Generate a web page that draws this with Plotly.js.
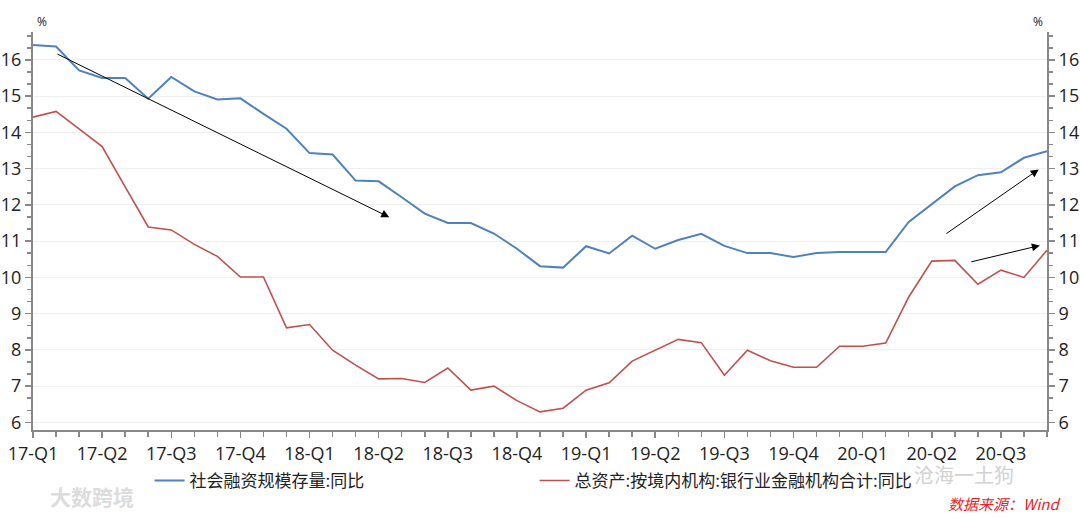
<!DOCTYPE html>
<html>
<head>
<meta charset="utf-8">
<script src="https://cdn.plot.ly/plotly-3.0.1.min.js"></script>
<style>html,body{margin:0;padding:0;background:#fff}#chart{width:1080px;height:518px}</style>
</head>
<body>
<div id="chart"></div>
<script>
// Month index 0 = 17-Q1 tick, one point per month
const months = Array.from({length: 45}, (_, i) => i);
const quarterTicks = [0, 3, 6, 9, 12, 15, 18, 21, 24, 27, 30, 33, 36, 39, 42];
const quarterLabels = ["17-Q1","17-Q2","17-Q3","17-Q4","18-Q1","18-Q2","18-Q3","18-Q4","19-Q1","19-Q2","19-Q3","19-Q4","20-Q1","20-Q2","20-Q3"];

const seriesNames = ["社会融资规模存量:同比", "总资产:按境内机构:银行业金融机构合计:同比"];

const tsfYoY = [16.41, 16.37, 15.71, 15.50, 15.50, 14.93, 15.53, 15.13, 14.91, 14.94,
                14.51, 14.10, 13.43, 13.39, 12.67, 12.65, 12.21, 11.76, 11.50, 11.50,
                11.21, 10.79, 10.31, 10.27, 10.86, 10.66, 11.15, 10.79, 11.03, 11.20,
                10.87, 10.67, 10.67, 10.56, 10.67, 10.70, 10.70, 10.70, 11.53, 12.02,
                12.51, 12.82, 12.90, 13.30, 13.48];

const bankAssetsYoY = [14.42, 14.58, 14.10, 13.61, 12.50, 11.39, 11.31, 10.91, 10.58, 10.01,
                       10.01, 8.61, 8.70, 7.99, 7.58, 7.20, 7.21, 7.10, 7.50, 6.89,
                       7.00, 6.60, 6.29, 6.39, 6.89, 7.09, 7.69, 7.99, 8.29, 8.20,
                       7.30, 7.99, 7.70, 7.52, 7.52, 8.10, 8.10, 8.19, 9.46, 10.45,
                       10.47, 9.81, 10.20, 10.00, 10.75];

// trend arrows: [startMonth, startValue, endMonth, endValue]
const trendArrows = [
  [1.0, 16.18, 15.46, 11.66],
  [39.57, 11.18, 43.64, 12.98],
  [40.65, 10.42, 43.69, 10.88]
];

const yRange = [5.79, 16.77];
const fontLatin = "'Open Sans', 'Noto Sans', 'Noto Sans CJK SC', sans-serif";
const fontCJK = "'Noto Sans CJK SC', 'Noto Sans', sans-serif";

const traces = [
  {x: months, y: tsfYoY, name: seriesNames[0], type: 'scatter', mode: 'lines',
   line: {color: '#4f81bd', width: 2}, yaxis: 'y'},
  {x: months, y: bankAssetsYoY, name: seriesNames[1], type: 'scatter', mode: 'lines',
   line: {color: '#c0504d', width: 1.6}, yaxis: 'y2'}
];

const axisCommon = {
  range: yRange, dtick: 1, tick0: 6, tickmode: 'linear',
  ticks: 'outside', ticklen: 6, tickwidth: 1.5, tickcolor: '#888',
  showline: true, linecolor: '#888', linewidth: 2,
  tickfont: {family: fontLatin, size: 18, color: '#222'},
  zeroline: false, fixedrange: true,
  minor: {tickmode: 'linear', tick0: 6, dtick: 1/3, ticks: 'outside', ticklen: 4, tickcolor: '#888', tickwidth: 1.5, showgrid: false}
};

const annotations = trendArrows.map(a => ({
  x: a[2], y: a[3], ax: a[0], ay: a[1], xref: 'x', yref: 'y', axref: 'x', ayref: 'y',
  showarrow: true, arrowhead: 2, arrowsize: 1.6, arrowwidth: 1, arrowcolor: '#000', text: ''
}));

annotations.push(
  {text: '%', xref: 'paper', yref: 'paper', x: 0.002, y: 1.0, xanchor: 'left', yanchor: 'bottom',
   showarrow: false, font: {family: fontLatin, size: 12, color: '#222'}},
  {text: '%', xref: 'paper', yref: 'paper', x: 0.998, y: 1.0, xanchor: 'right', yanchor: 'bottom',
   showarrow: false, font: {family: fontLatin, size: 12, color: '#222'}},
  {text: '数据来源：Wind', xref: 'paper', yref: 'paper', x: 1.015, y: -0.185, xanchor: 'right', yanchor: 'middle',
   showarrow: false, font: {family: fontCJK, size: 15, color: '#e8231f', style: 'italic'}},
  {text: '沧海一土狗', xref: 'paper', yref: 'paper', x: 0.968, y: -0.112, xanchor: 'right', yanchor: 'middle',
   showarrow: false, borderpad: 0, font: {family: fontCJK, size: 20, color: '#d2d2d2'}},
  {text: '大数跨境', xref: 'paper', yref: 'paper', x: 0.015, y: -0.166, xanchor: 'left', yanchor: 'middle',
   showarrow: false, font: {family: fontCJK, size: 21, color: '#dcdcdc', weight: 700}}
);

const layout = {
  width: 1080, height: 518,
  margin: {l: 33, r: 33, t: 32, b: 88},
  paper_bgcolor: '#fff', plot_bgcolor: '#fff',
  showlegend: true,
  legend: {orientation: 'h', x: 0.115, y: -0.128, xanchor: 'left', yanchor: 'middle',
           font: {family: fontCJK, size: 17, color: '#222'},
           entrywidth: 340, entrywidthmode: 'pixels', itemwidth: 30, tracegroupgap: 0},
  xaxis: {
    range: [0, 44], tickmode: 'array', tickvals: quarterTicks, ticktext: quarterLabels,
    ticks: 'outside', ticklen: 6, tickwidth: 1.5, tickcolor: '#888',
    showline: true, linecolor: '#888', linewidth: 2, showgrid: false, zeroline: false,
    tickfont: {family: fontLatin, size: 18, color: '#222'}, fixedrange: true,
    minor: {tickmode: 'linear', tick0: 0, dtick: 1, ticks: 'outside', ticklen: 5, tickcolor: '#888', tickwidth: 1.5, showgrid: false}
  },
  yaxis: Object.assign({}, axisCommon, {side: 'left', showgrid: true, gridcolor: '#efefef', gridwidth: 1}),
  yaxis2: Object.assign({}, axisCommon, {side: 'right', overlaying: 'y', showgrid: false}),
  annotations: annotations
};

Plotly.newPlot('chart', traces, layout, {displayModeBar: false, staticPlot: true});
</script>
</body>
</html>
